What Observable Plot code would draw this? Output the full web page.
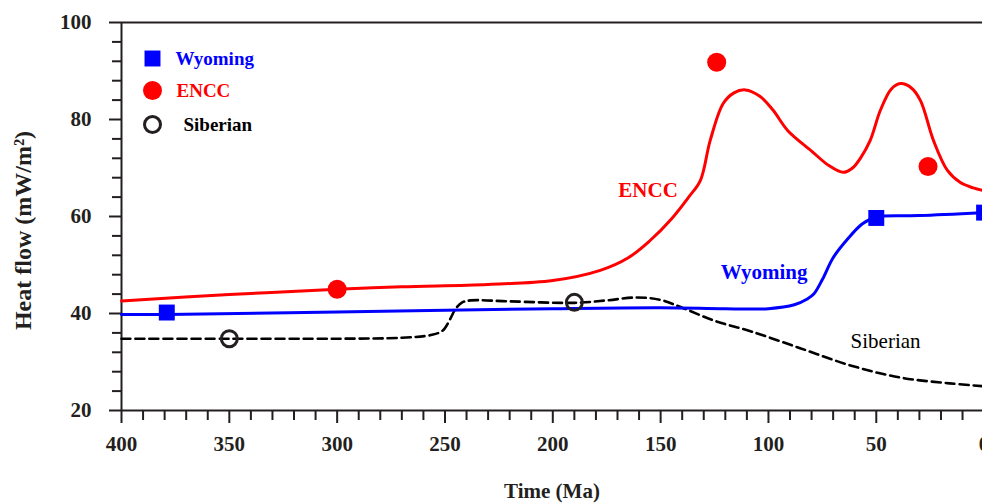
<!DOCTYPE html>
<html>
<head>
<meta charset="utf-8">
<script src="https://cdn.jsdelivr.net/npm/d3@7"></script>
<script src="https://cdn.jsdelivr.net/npm/@observablehq/plot@0.6"></script>
<style>
  html, body { margin: 0; padding: 0; background: #fff; overflow: hidden; }
  #chart svg { display: block; }
</style>
</head>
<body>
<div id="chart"></div>
<script>
// ---- data (time in Ma, heat flow in mW/m²) ----
const wyomingCurveMa = [400, 379, 300, 200, 150, 120, 100, 88, 82, 79, 75, 70, 63, 57, 52, 50, 30, 0];
const wyomingCurveHF = [39.8, 39.8, 40.3, 41.0, 41.2, 41.0, 41.0, 41.8, 43.0, 44.0, 47.0, 51.5, 55.5, 58.3, 59.6, 60.0, 60.2, 60.8];

const enccCurveMa = [400, 350, 300, 270, 230, 200, 178, 165, 155, 145, 137, 131.6, 127, 121, 116, 110.7, 104, 98, 91, 80, 72, 65.3, 61, 57.4, 52.8, 48.1, 43, 38.8, 34, 29.5, 23.5, 17, 11, 5, 0];
const enccCurveHF = [42.6, 43.9, 45.0, 45.5, 46.0, 46.8, 48.9, 51.5, 55.0, 59.5, 64.0, 67.4, 75.7, 83.3, 85.5, 86.1, 84.8, 82.0, 77.7, 73.5, 70.5, 69.1, 70.0, 72.0, 75.7, 81.9, 86.3, 87.4, 86.6, 83.9, 75.7, 69.5, 67.0, 65.9, 65.3];

const siberianCurveMa = [400, 350, 300, 270, 256, 251, 248, 245, 242, 238, 220, 190, 175, 161, 150, 140, 125, 108, 85, 62, 39, 16, 0];
const siberianCurveHF = [34.8, 34.8, 34.8, 35.0, 35.6, 36.5, 38.5, 41.0, 42.3, 42.7, 42.5, 42.2, 42.7, 43.3, 42.8, 41.2, 38.5, 36.3, 32.8, 29.3, 26.8, 25.6, 25.0];

const wyomingPtsMa = [379, 50, 0];
const wyomingPtsHF = [40.2, 59.7, 60.8];
const enccPtsMa = [300, 124, 26];
const enccPtsHF = [45.0, 91.8, 70.3];
const siberianPtsMa = [350, 190];
const siberianPtsHF = [34.8, 42.3];

const seriesNames = ["Wyoming", "ENCC", "Siberian"];
const seriesColors = ["#0000ff", "#ff0000", "#000000"];

const labelMa = [102, 155.8, 45.7];
const labelHF = [48.5, 65.4, 34.2];

const xMajorTicks = [400, 350, 300, 250, 200, 150, 100, 50, 0];
const yMajorTicks = [20, 40, 60, 80, 100];
const xMinorTicks = d3.range(0, 401, 10).filter(v => v % 50 !== 0);
const yMinorTicks = d3.range(20, 101, 4).filter(v => v % 20 !== 0);

// ---- build tables ----
const zip = (xs, ys) => xs.map((x, i) => ({ma: x, hf: ys[i]}));
const wyCurve = zip(wyomingCurveMa, wyomingCurveHF);
const enCurve = zip(enccCurveMa, enccCurveHF);
const siCurve = zip(siberianCurveMa, siberianCurveHF);
const wyPts = zip(wyomingPtsMa, wyomingPtsHF);
const enPts = zip(enccPtsMa, enccPtsHF);
const siPts = zip(siberianPtsMa, siberianPtsHF);
const labels = seriesNames.map((n, i) => ({name: n, ma: labelMa[i], hf: labelHF[i], color: seriesColors[i]}));

const FONT = "'Liberation Serif', 'Times New Roman', serif";
const AXC = "#231f20";

const legendMarks = [];
const legendDy = [36, 68, 102];
const legendTextDx = [54, 55, 62];
const legendSymbols = ["square", "circle", "circle"];
seriesNames.forEach((name, i) => {
  const open = i === 2;
  legendMarks.push(Plot.dot([name], {
    frameAnchor: "top-left", dx: 31, dy: legendDy[i],
    symbol: legendSymbols[i], r: open ? 8 : (i === 0 ? 9 : 9.5),
    fill: open ? "none" : seriesColors[i],
    stroke: open ? "#231f20" : "none", strokeWidth: open ? 3 : 0
  }));
  legendMarks.push(Plot.text([name], {
    text: d => d, frameAnchor: "top-left", dx: legendTextDx[i], dy: legendDy[i],
    textAnchor: "start", lineAnchor: "middle", fill: seriesColors[i],
    fontSize: 19, fontWeight: "bold", fontFamily: FONT
  }));
});

const chart = Plot.plot({
  width: 982,
  height: 503,
  marginLeft: 121,
  marginTop: 22,
  marginBottom: 93,
  marginRight: 0,
  style: {fontFamily: FONT, background: "white", overflow: "hidden"},
  x: {domain: [400, 0], range: [121, 983.6]},
  y: {domain: [20, 100], range: [410, 22]},
  marks: [
    // frame lines
    Plot.ruleY([100], {stroke: AXC, strokeWidth: 2}),
    Plot.ruleY([20], {stroke: AXC, strokeWidth: 2}),
    Plot.ruleX([400], {stroke: AXC, strokeWidth: 2}),
    // axes
    Plot.axisX({ticks: xMajorTicks, tickSize: 13, tickPadding: 13, tickFormat: d => String(d),
      fontSize: 21, fontWeight: "bold", fill: AXC, stroke: AXC, strokeWidth: 2, label: null}),
    Plot.axisX({ticks: xMinorTicks, tickSize: 10, text: null, stroke: AXC, strokeWidth: 2, label: null}),
    Plot.axisY({ticks: yMajorTicks, tickSize: 12, tickPadding: 18, tickFormat: d => String(d),
      fontSize: 21, fontWeight: "bold", fill: AXC, stroke: AXC, strokeWidth: 2, label: null}),
    Plot.axisY({ticks: yMinorTicks, tickSize: 9, text: null, stroke: AXC, strokeWidth: 2, label: null}),
    // axis titles
    Plot.text(["Time (Ma)"], {text: d => d, frameAnchor: "bottom", dy: 81, lineAnchor: "middle",
      textAnchor: "middle", fontSize: 21, fontWeight: "bold", fill: AXC}),
    Plot.text(["Heat flow (mW/m²)"], {text: d => d, frameAnchor: "left", dx: -98, dy: 14, rotate: -90,
      textAnchor: "middle", lineAnchor: "middle", fontSize: 24, fontWeight: "bold", fill: AXC}),
    // curves
    Plot.line(siCurve, {x: "ma", y: "hf", curve: "catmull-rom", stroke: "#000", strokeWidth: 2.6, strokeDasharray: "9,5"}),
    Plot.line(wyCurve, {x: "ma", y: "hf", curve: "catmull-rom", stroke: "#0000ff", strokeWidth: 3}),
    Plot.line(enCurve, {x: "ma", y: "hf", curve: "catmull-rom", stroke: "#ff0000", strokeWidth: 3}),
    // points
    Plot.dot(wyPts, {x: "ma", y: "hf", symbol: "square", r: 9, fill: "#0000ff"}),
    Plot.dot(enPts, {x: "ma", y: "hf", r: 9.5, fill: "#ff0000"}),
    Plot.dot(siPts, {x: "ma", y: "hf", r: 8, fill: "none", stroke: "#231f20", strokeWidth: 3}),
    // curve labels
    Plot.text(labels.filter(d => d.name !== "Siberian"), {x: "ma", y: "hf", text: "name", fill: "color",
      fontSize: 21, fontWeight: "bold"}),
    Plot.text(labels.filter(d => d.name === "Siberian"), {x: "ma", y: "hf", text: "name", fill: "color",
      fontSize: 21, fontWeight: "normal"}),
    ...legendMarks
  ]
});
document.getElementById("chart").appendChild(chart);
</script>
</body>
</html>
